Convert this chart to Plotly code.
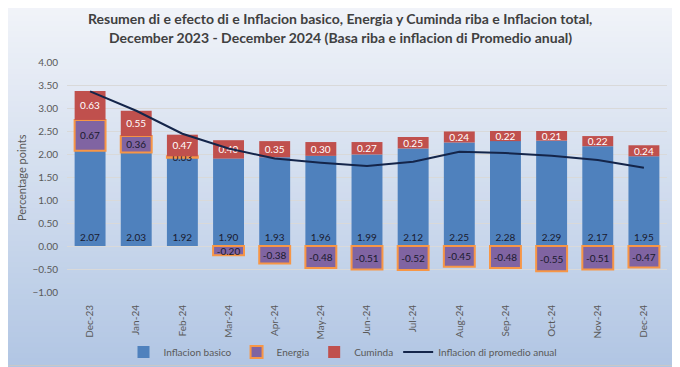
import plotly.graph_objects as go

months = ["Dec-23", "Jan-24", "Feb-24", "Mar-24", "Apr-24", "May-24", "Jun-24",
          "Jul-24", "Aug-24", "Sep-24", "Oct-24", "Nov-24", "Dec-24"]
basico = [2.07, 2.03, 1.92, 1.90, 1.93, 1.96, 1.99, 2.12, 2.25, 2.28, 2.29, 2.17, 1.95]
energia = [0.67, 0.36, 0.03, -0.20, -0.38, -0.48, -0.51, -0.52, -0.45, -0.48, -0.55, -0.51, -0.47]
cuminda = [0.63, 0.55, 0.47, 0.40, 0.35, 0.30, 0.27, 0.25, 0.24, 0.22, 0.21, 0.22, 0.24]
promedio = [3.36, 2.94, 2.44, 2.12, 1.90, 1.81, 1.74, 1.83, 2.05, 2.02, 1.96, 1.87, 1.70]

title1 = "Resumen di e efecto di e Inflacion basico, Energia y Cuminda riba e Inflacion total,"
title2 = "December 2023 - December 2024 (Basa riba e inflacion di Promedio anual)"

FONT = "Lato"
W, H = 680, 367
OFF = 8  # page body margin offset
# plot area in reference pixel coordinates
PL, PR, PT, PB = 67, 667, 62, 292
ML, MT = PL - OFF, PT - OFF
MR, MB = W - (PR - OFF), H - (PB - OFF)

fig = go.Figure()
fig.add_trace(go.Bar(
    x=months, y=basico, name="Inflacion basico",
    marker=dict(color="#4f81bd", line=dict(width=0)),
    text=[f"{v:.2f}" for v in basico], textposition="inside",
    insidetextanchor="start", textangle=0,
    textfont=dict(color="#1a1a2e", size=10, family=FONT),
))
fig.add_trace(go.Bar(
    x=months, y=energia, name="Energia",
    marker=dict(color="#8064a2", line=dict(color="#f79646", width=2)),
    text=[f"{v:.2f}" for v in energia], textposition="inside",
    insidetextanchor="middle", textangle=0,
    textfont=dict(color="#1a1a2e", size=10, family=FONT),
))
fig.add_trace(go.Bar(
    x=months, y=cuminda, name="Cuminda",
    marker=dict(color="#c0504d", line=dict(width=0)),
    text=[f"{v:.2f}" for v in cuminda], textposition="inside",
    insidetextanchor="middle", textangle=0,
    textfont=dict(color="white", size=10, family=FONT),
))
fig.add_trace(go.Scatter(
    x=months, y=promedio, name="Inflacion di promedio anual",
    mode="lines", line=dict(color="#14254a", width=2),
))

pw = PR - PL
ph = PB - PT


def px_x(x):  # reference pixel -> paper x
    return (x - PL) / pw


def px_y(y):  # reference pixel -> paper y
    return (PB - y) / ph


# background gradient covering the visible window
top_c = (242, 244, 249)
bot_c = (176, 197, 227)
shapes = []
n = 70
ytop_px, ybot_px = 0, H + OFF
for i in range(n):
    t = i / (n - 1)
    c = tuple(round(top_c[k] + (bot_c[k] - top_c[k]) * t) for k in range(3))
    ya = ytop_px + (ybot_px - ytop_px) * i / n
    yb = ytop_px + (ybot_px - ytop_px) * (i + 1) / n
    shapes.append(dict(type="rect", xref="paper", yref="paper",
                       x0=px_x(0), x1=px_x(W + OFF), y0=px_y(yb) - 0.003, y1=px_y(ya) + 0.003,
                       fillcolor=f"rgb{c}", line=dict(width=0), layer="below"))
shapes.append(dict(type="rect", xref="paper", yref="paper",
                   x0=px_x(1.5), x1=px_x(W - 1.5), y0=px_y(H - 1.5), y1=px_y(1.5),
                   fillcolor="rgba(0,0,0,0)", line=dict(color="#c8c8c8", width=1),
                   layer="above"))

annotations = [
    dict(text=f"<b>{title1}</b>", xref="paper", yref="paper",
         x=px_x(340), y=px_y(19), showarrow=False,
         xanchor="center", yanchor="middle",
         font=dict(family=FONT, size=14, color="#404040")),
    dict(text=f"<b>{title2}</b>", xref="paper", yref="paper",
         x=px_x(340), y=px_y(38), showarrow=False,
         xanchor="center", yanchor="middle",
         font=dict(family=FONT, size=14, color="#404040")),
    dict(text="Percentage points", xref="paper", yref="paper",
         x=px_x(21), y=px_y(178), showarrow=False, textangle=-90,
         xanchor="center", yanchor="middle",
         font=dict(family=FONT, size=11, color="#595959")),
]

fig.update_layout(
    width=W, height=H,
    margin=dict(l=ML, r=MR, t=MT, b=MB, autoexpand=False),
    barmode="relative", bargap=0.33,
    paper_bgcolor="white", plot_bgcolor="rgba(0,0,0,0)",
    shapes=shapes, annotations=annotations,
    uniformtext=dict(minsize=10, mode="show"),
    font=dict(family=FONT, size=10, color="#595959"),
    showlegend=True,
    legend=dict(orientation="h", x=px_x(343), xanchor="center",
                y=px_y(352), yanchor="middle",
                font=dict(family=FONT, size=10, color="#595959"),
                bgcolor="rgba(0,0,0,0)", traceorder="normal"),
)
fig.update_yaxes(range=[-1, 4], dtick=0.5, tickformat=".2f", automargin=False,
                 showgrid=True, gridcolor="#d9d9d9", gridwidth=1,
                 zeroline=True, zerolinecolor="#d9d9d9", zerolinewidth=1,
                 showline=False, ticks="", ticklabelstandoff=8,
                 tickfont=dict(family=FONT, size=10, color="#595959"))
fig.update_xaxes(tickangle=-90, showgrid=False, showline=False, ticks="",
                 ticklabelstandoff=10, automargin=False,
                 tickfont=dict(family=FONT, size=10, color="#595959"))

fig.write_html("out.html")
